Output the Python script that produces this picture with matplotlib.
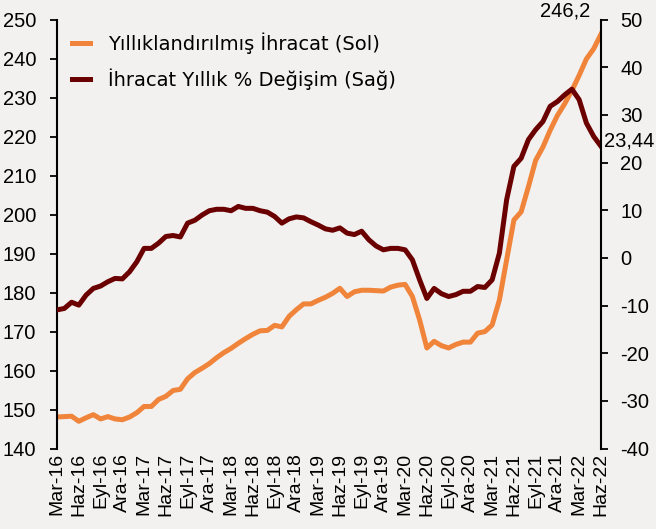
import numpy as np
import matplotlib
matplotlib.use("Agg")
import matplotlib.pyplot as plt

plt.rcParams['font.family'] = ['Liberation Sans', 'DejaVu Sans']
plt.rcParams['axes.unicode_minus'] = False

# Monthly data, Mar-16 .. Haz-22
ihracat = [148.1, 148.2, 148.3, 147.0, 147.9, 148.7, 147.6, 148.2, 147.6, 147.4,
           148.1, 149.2, 150.8, 150.8, 152.6, 153.4, 154.9, 155.2, 157.9, 159.5,
           160.6, 161.8, 163.3, 164.6, 165.7, 167.0, 168.2, 169.3, 170.2, 170.3,
           171.6, 171.2, 173.9, 175.6, 177.1, 177.1, 178.0, 178.8, 179.8, 181.1,
           179.0, 180.2, 180.6, 180.6, 180.5, 180.4, 181.4, 181.9, 182.1, 179.0,
           173.0, 165.8, 167.5, 166.4, 165.8, 166.7, 167.3, 167.3, 169.6, 170.0,
           171.7, 178.1, 188.4, 198.6, 200.7, 207.1, 213.9, 217.3, 221.6, 225.4,
           228.4, 231.8, 235.7, 239.9, 242.5, 246.2]
degisim = [-10.9, -10.6, -9.3, -9.9, -7.8, -6.4, -5.9, -5.0, -4.3, -4.4,
           -2.9, -0.8, 2.0, 2.0, 3.1, 4.5, 4.7, 4.4, 7.3, 7.9,
           9.0, 9.9, 10.2, 10.2, 9.9, 10.8, 10.4, 10.4, 9.9, 9.6,
           8.7, 7.3, 8.2, 8.6, 8.4, 7.6, 6.9, 6.1, 5.8, 6.3,
           5.2, 4.9, 5.6, 3.8, 2.5, 1.7, 2.0, 2.0, 1.7, -0.4,
           -4.6, -8.5, -6.4, -7.5, -8.1, -7.7, -7.0, -7.0, -6.0, -6.2,
           -4.6, 1.0, 12.2, 19.2, 20.9, 24.8, 26.9, 28.6, 31.8, 32.8,
           34.2, 35.4, 33.2, 28.3, 25.5, 23.44]
tick_labels = ["Mar-16", "Haz-16", "Eyl-16", "Ara-16", "Mar-17", "Haz-17", "Eyl-17",
               "Ara-17", "Mar-18", "Haz-18", "Eyl-18", "Ara-18", "Mar-19", "Haz-19",
               "Eyl-19", "Ara-19", "Mar-20", "Haz-20", "Eyl-20", "Ara-20", "Mar-21",
               "Haz-21", "Eyl-21", "Ara-21", "Mar-22", "Haz-22"]

orange = "#F0843A"
darkred = "#6B0000"
bg = "#F2F1EF"

x = np.arange(len(ihracat))

fig = plt.figure(figsize=(6.56, 5.29), dpi=100, facecolor=bg)
ax = fig.add_axes([0.087, 0.152, 0.829, 0.811])
ax.set_facecolor(bg)
ax2 = ax.twinx()

l1, = ax.plot(x, ihracat, color=orange, lw=3.6, solid_joinstyle="round",
              label="Yıllıklandırılmış İhracat (Sol)")
l2, = ax2.plot(x, degisim, color=darkred, lw=3.6, solid_joinstyle="round",
               label="İhracat Yıllık % Değişim (Sağ)")

ax.set_xlim(0, len(x) - 1)
ax.set_ylim(140, 250)
ax2.set_ylim(-40, 50)
ax.set_yticks(np.arange(140, 251, 10))
ax2.set_yticks(np.arange(-40, 51, 10))
ax.set_xticks(x[::3])
ax.set_xticklabels(tick_labels, rotation=90, fontsize=14)

for a in (ax, ax2):
    for s in ("top", "bottom"):
        a.spines[s].set_visible(False)
    a.tick_params(axis="y", labelsize=14.5, length=5, width=1.3)
ax.tick_params(axis="y", pad=10)
ax2.tick_params(axis="y", pad=9)
ax.spines["right"].set_visible(False)
ax2.spines["left"].set_visible(False)
ax.spines["left"].set_linewidth(1.5)
ax2.spines["right"].set_linewidth(1.5)
ax.tick_params(axis="x", length=0, pad=3)

ax.annotate(f"{ihracat[-1]:.1f}".replace(".", ","), xy=(x[-1], ihracat[-1]),
            xytext=(-8, 10), textcoords="offset points", ha="right", va="bottom",
            fontsize=14.5, annotation_clip=False)
ax2.annotate(f"{degisim[-1]:.2f}".replace(".", ","), xy=(x[-1], degisim[-1]),
             xytext=(2, 4), textcoords="offset points", ha="left", va="center",
             fontsize=14.5, annotation_clip=False)

leg = ax2.legend([l1, l2], [l1.get_label(), l2.get_label()], loc="upper left",
                 bbox_to_anchor=(0.027, 0.97), borderaxespad=0, borderpad=0,
                 frameon=False, prop={"family": "DejaVu Sans", "size": 14},
                 handlelength=0.95, handletextpad=0.9, labelspacing=0.75)

fig.savefig("out.png", dpi=100, facecolor=bg)
